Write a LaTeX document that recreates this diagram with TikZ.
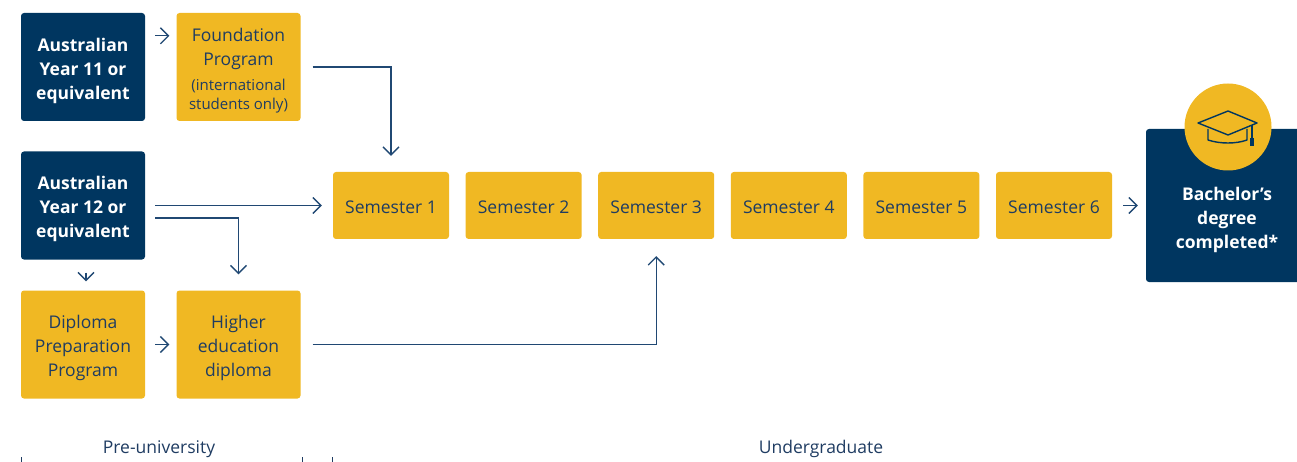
\documentclass[tikz,border=0pt]{standalone}
\usepackage{fontspec}
\setmainfont{Open Sans}
\usepackage{tikz}
\usetikzlibrary{positioning}
\usetikzlibrary{arrows.meta}
\definecolor{navy}{RGB}{0,54,96}
\definecolor{gold}{RGB}{240,184,35}
\definecolor{inkblue}{RGB}{31,60,98}
\definecolor{linkblue}{RGB}{32,72,115}
\newcommand{\smallnote}{\fontsize{15}{19}\selectfont}
\newcommand{\topstrut}{\rule{0pt}{21pt}}
\tikzstyle{box_navy}=[rectangle, rounded corners=3pt, fill=navy, text=white, font=\bfseries\fontsize{17.5}{24}\selectfont, align=center, inner sep=0pt]
\tikzstyle{box_gold}=[rectangle, rounded corners=3pt, fill=gold, text=inkblue, font=\fontsize{17.5}{24}\selectfont, align=center, inner sep=0pt]
\tikzstyle{box_pre}=[minimum width=124pt, minimum height=108pt]
\tikzstyle{box_sem}=[box_gold, minimum width=116pt, minimum height=67pt, text height=17pt, text depth=0pt]
\tikzstyle{link_arrow}=[draw=linkblue, line width=1.3pt, -{Straight Barb[length=8pt, width=16pt]}]

\begin{document}
\begin{tikzpicture}[x=1pt, y=-1pt]
          \clip (0,0) rectangle (1297,462);
          \node[box_navy, box_pre] (year11) at (83,67){\topstrut Australian\\Year 11 or\\equivalent};
          \node[box_gold, box_pre] (foundation) at (238.5,67){\topstrut Foundation\\Program\\[1pt]\smallnote(international\\[-5pt]\smallnote students only)};
          \node[box_navy, box_pre] (year12) at (83,205.5){\topstrut Australian\\Year 12 or\\equivalent};
          \node[box_gold, box_pre] (diploma) at (83,344.5){\topstrut Diploma\\Preparation\\Program};
          \node[box_gold, box_pre] (higher) at (238.5,344.5){\topstrut Higher\\education\\diploma};
          \foreach \i in {1,...,6}
            \node[box_sem] (sem\i) at ({391+132.6*(\i-1)},205.5){Semester \i};
          \node[box_navy, minimum width=162pt, minimum height=153pt] (bachelor) at (1227,205.5){};
          \node[text=white, font=\bfseries\fontsize{17.5}{24}\selectfont, align=center] (bachelor_text) at (1227,220){Bachelor’s\\degree\\completed*};
          \node[circle, fill=gold, minimum size=87pt, inner sep=0pt] (cap_badge) at (1228,127){};
          % mortarboard
          \begin{scope}[shift={(cap_badge.center)}, draw=navy, line width=1.4pt, line join=round]
            \draw (-30,-4) -- (0,-16) -- (29,-4) -- (0,8) -- cycle;
            \draw (-20,2) -- (-20,13) .. controls (-8,17) and (8,17) .. (19,13) -- (19,2);
            \draw (24,-2) -- (24,12);
            \fill[navy] (22,11) rectangle (26,19);
          \end{scope}
          \draw[link_arrow, shorten <=10pt, shorten >=7pt] ([yshift=-23pt]year11.north east) -- ([yshift=-23pt]foundation.north west);
          \draw[link_arrow, shorten <=12pt, shorten >=16pt] (foundation.east) -| (sem1.north);
          \draw[link_arrow, shorten <=10pt, shorten >=11pt] (year12) -- (sem1);
          \draw[link_arrow, shorten <=10pt, shorten >=16pt] ([yshift=-12.5pt]year12.east) -| (higher.north);
          \draw[link_arrow, shorten <=13pt, shorten >=9pt] ([xshift=3pt]year12.south) -- ([xshift=3pt]diploma.north);
          \draw[link_arrow, shorten <=10pt, shorten >=7pt] (diploma) -- (higher);
          \draw[link_arrow, shorten <=12pt, shorten >=17pt] (higher.east) -| (sem3.south);
          \draw[link_arrow, shorten <=11pt, shorten >=8pt] (sem6) -- (sem6 -| bachelor.west);
          % stages
          \node[text=inkblue, font=\fontsize{17.5}{20}\selectfont] (pre_label) at (159,449){Pre-university};
          \node[text=inkblue, font=\fontsize{17.5}{20}\selectfont] (ug_label) at (821,449){Undergraduate};
          \draw[inkblue, line width=1pt] (21,457) -- (21,470) (302,457) -- (302,470) (332,457) -- (332,470);
        \end{tikzpicture}
\end{document}
